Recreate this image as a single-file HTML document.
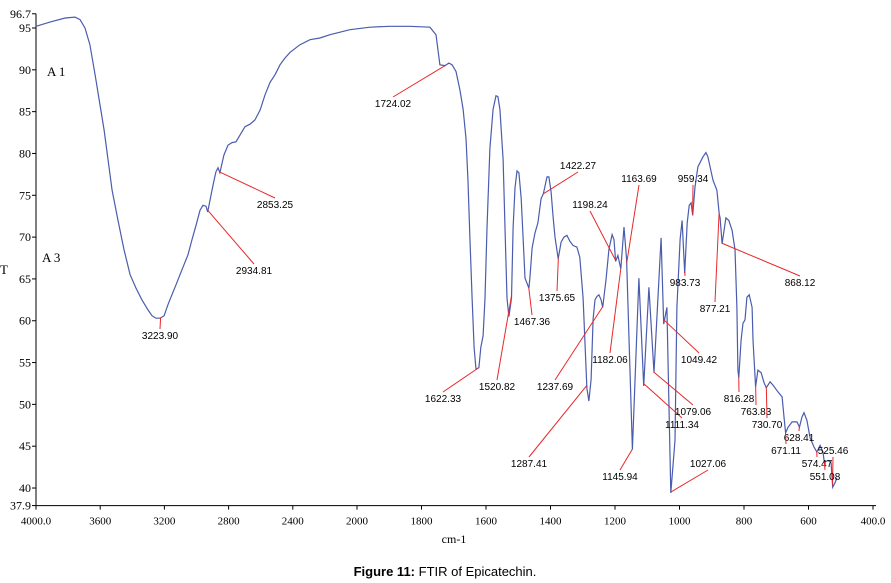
<!DOCTYPE html>
<html><head><meta charset="utf-8"><style>
html,body{margin:0;padding:0;background:#fff;}
svg{display:block;}
.tk{font-family:"Liberation Serif",serif;font-size:12px;fill:#000;}
.pl{font-family:"Liberation Sans",sans-serif;font-size:10px;fill:#000;}
</style></head><body>
<svg id="c" width="891" height="583" viewBox="0 0 891 583">
<g id="axes"></g>
<path id="spec" fill="none" stroke="#4a5cae" stroke-width="1.2"/>
<g id="ann"></g>
<text x="47" y="76" class="tk" style="font-size:13px">A 1</text>
<text x="42" y="262" class="tk" style="font-size:13px">A 3</text>
<text x="0" y="274" class="tk" style="font-size:13px">T</text>
<text x="454" y="543" class="tk" text-anchor="middle">cm-1</text>
<text x="445" y="576" text-anchor="middle" style="font-family:'Liberation Sans',sans-serif;font-size:13px"><tspan font-weight="bold">Figure 11:</tspan> FTIR of Epicatechin.</text>
</svg>
<script>
const wavenumbers=[4000,3913,3819,3757,3726,3695,3664,3632,3601,3576,3551,3526,3489,3452,3414,3377,3340,3302,3277,3252,3227,3202,3178,3153,3128,3103,3078,3053,3028,3003,2978,2960,2941,2930,2916,2897,2879,2866,2854,2829,2804,2779,2754,2729,2698,2667,2636,2604,2573,2542,2511,2480,2449,2417,2355,2293,2231,2168,2044,1960,1898,1836,1774,1755,1743,1727,1715,1705,1693,1681,1671,1662,1656,1650,1643,1637,1631,1622,1616,1609,1603,1597,1588,1578,1569,1563,1557,1547,1541,1535,1529,1521,1516,1510,1504,1498,1491,1485,1479,1467,1464,1457,1448,1439,1429,1422,1411,1405,1398,1392,1386,1376,1367,1358,1349,1340,1330,1318,1309,1299,1293,1287,1281,1274,1268,1262,1256,1250,1243,1238,1228,1219,1209,1203,1198,1191,1182,1172,1164,1146,1126,1111,1095,1079,1057,1049,1039,1027,1014,1008,998,992,984,976,970,964,959,952,943,927,918,912,896,884,877,874,868,856,847,837,828,822,819,816,809,803,797,791,784,775,772,764,757,747,738,731,719,710,695,682,676,671,663,651,636,628,620,614,605,595,583,574,564,555,551,539,530,525,518,512];
const transmittance=[95.2,95.7,96.2,96.3,96.0,95,93.0,89.4,85.8,82.8,79.2,75.6,72.0,68.5,65.5,63.9,62.5,61.3,60.6,60.3,60.3,60.6,61.9,63.1,64.3,65.5,66.7,67.9,69.7,71.4,73.2,73.8,73.7,73.0,74.4,76.2,77.8,78.3,77.7,79.8,81.0,81.3,81.4,82.2,83.2,83.5,84.0,85.2,87.0,88.5,89.4,90.6,91.4,92.1,93.0,93.6,93.8,94.2,94.8,95.1,95.2,95.2,95.1,94.2,90.6,90.5,90.8,90.6,89.8,87.6,85.3,81.8,77.0,69.9,62.7,56.8,54.2,54.4,56.8,58.2,62.7,71.1,80.6,85.3,86.9,86.8,85.3,79.3,71.1,62.7,60.5,62.7,71.1,75.9,77.9,77.7,74.6,69.9,65.1,63.9,65.1,68.7,70.5,71.7,74.6,75.2,77.2,77.2,75.4,72.4,70.0,67.4,69.4,70.0,70.2,69.5,69.0,68.8,67.6,62.7,57.3,51.9,50.4,53.0,60.2,62.5,62.9,63.1,62.5,61.6,64.9,68.5,70.3,69.7,67.1,67.8,66.2,71.2,67.3,44.6,65.1,52.2,64.0,53.8,69.9,59.6,61.6,39.4,45.7,61.6,69.7,72.0,65.7,71.7,73.8,74.1,72.6,76.0,78.4,79.6,80.1,79.6,76.8,75.6,72.8,72.3,69.2,72.3,72.0,70.8,68.5,61.6,54.1,53.2,57.7,59.7,60.1,62.8,63.1,61.6,57.7,52.1,54.1,53.8,52.6,52.0,52.7,52.3,51.5,50.9,48.5,46.6,47.3,47.9,47.9,47.3,48.5,49.0,48.1,46.0,44.9,44.3,45.1,44.3,43.1,43.3,43.0,40.1,40.6,41.2];
const yTicks=[95,90,85,80,75,70,65,60,55,50,45,40];
const xTicks=[4000,3600,3200,2800,2400,2000,1800,1600,1400,1200,1000,800,600,400];
const xTickLabels=["4000.0","3600","3200","2800","2400","2000","1800","1600","1400","1200","1000","800","600","400.0"];
const peakValues=[1724.02,2853.25,2934.81,3223.90,1622.33,1520.82,1467.36,1375.65,1422.27,1198.24,1163.69,1182.06,1237.69,1287.41,1145.94,1027.06,1111.34,1079.06,1049.42,983.73,959.34,877.21,868.12,816.28,763.83,730.70,628.41,671.11,525.46,574.47,551.08];
// layout: label center x, baseline y (pixels)
const labelPos=[[393,107],[275,208],[254,274],[160,339],[443,402],[497,390],[532,325],[557,301],[578,169],[590,208],[639,182],[610,363],[555,390],[529,467],[620,480],[708,467],[682,428],[693,415],[699,363],[685,286],[693,182],[715,312],[800,286],[739,402],[756,415],[767,428],[799,441],[786,454],[833,454],[817,467],[825,480]];
function X(w){return w>=2000?36+(4000-w)*0.1605:357+(2000-w)*0.3225;}
function Y(t){return 28+(95-t)*8.364;}
function T(w){for(let i=0;i<wavenumbers.length-1;i++){if(w<=wavenumbers[i]&&w>=wavenumbers[i+1]){const f=(wavenumbers[i]-w)/(wavenumbers[i]-wavenumbers[i+1]);return transmittance[i]+f*(transmittance[i+1]-transmittance[i]);}}return transmittance[transmittance.length-1];}
const NS="http://www.w3.org/2000/svg";
function mk(tag,attrs,parent){const e=document.createElementNS(NS,tag);for(const k in attrs)e.setAttribute(k,attrs[k]);parent.appendChild(e);return e;}
const ax=document.getElementById('axes');
const y0=Y(37.9),yTop=Y(96.7);
let a=mk('line',{x1:36,y1:yTop,x2:36,y2:y0,stroke:'#000'},ax);


a=mk('line',{x1:36,y1:y0,x2:876,y2:y0,stroke:'#000'},ax);


[[96.7,"96.7"],[37.9,"37.9"]].concat(yTicks.map(v=>[v,String(v)])).forEach(([v,s])=>{
  mk('line',{x1:32,y1:Y(v),x2:36,y2:Y(v),stroke:'#000'},ax);
  const t=mk('text',{x:31,y:Y(v)+4,'text-anchor':'end',class:'tk'},ax);t.textContent=s;
  
  
});
xTicks.forEach((w,i)=>{
  mk('line',{x1:X(w),y1:y0,x2:X(w),y2:y0+4,stroke:'#000'},ax);
  const t=mk('text',{x:X(w),y:y0+19,'text-anchor':'middle',class:'tk',style:'font-size:11px'},ax);t.textContent=xTickLabels[i];
  
  
});
document.getElementById('spec').setAttribute('d',wavenumbers.map((w,i)=>(i?'L':'M')+X(w).toFixed(1)+','+Y(transmittance[i]).toFixed(1)).join(''));
const ann=document.getElementById('ann');
peakValues.forEach((p,i)=>{
  const px=X(p),py=Y(T(p));const [lx,ly]=labelPos[i];
  const ey=ly<py?ly+3:ly-10;
  const l=mk('line',{x1:px,y1:py,x2:lx,y2:ey,stroke:'#e8282a','stroke-width':1},ann);
  
  
  const t=mk('text',{x:lx,y:ly,'text-anchor':'middle',class:'pl'},ann);t.textContent=p.toFixed(2);
  
  
});
</script>
</body></html>
